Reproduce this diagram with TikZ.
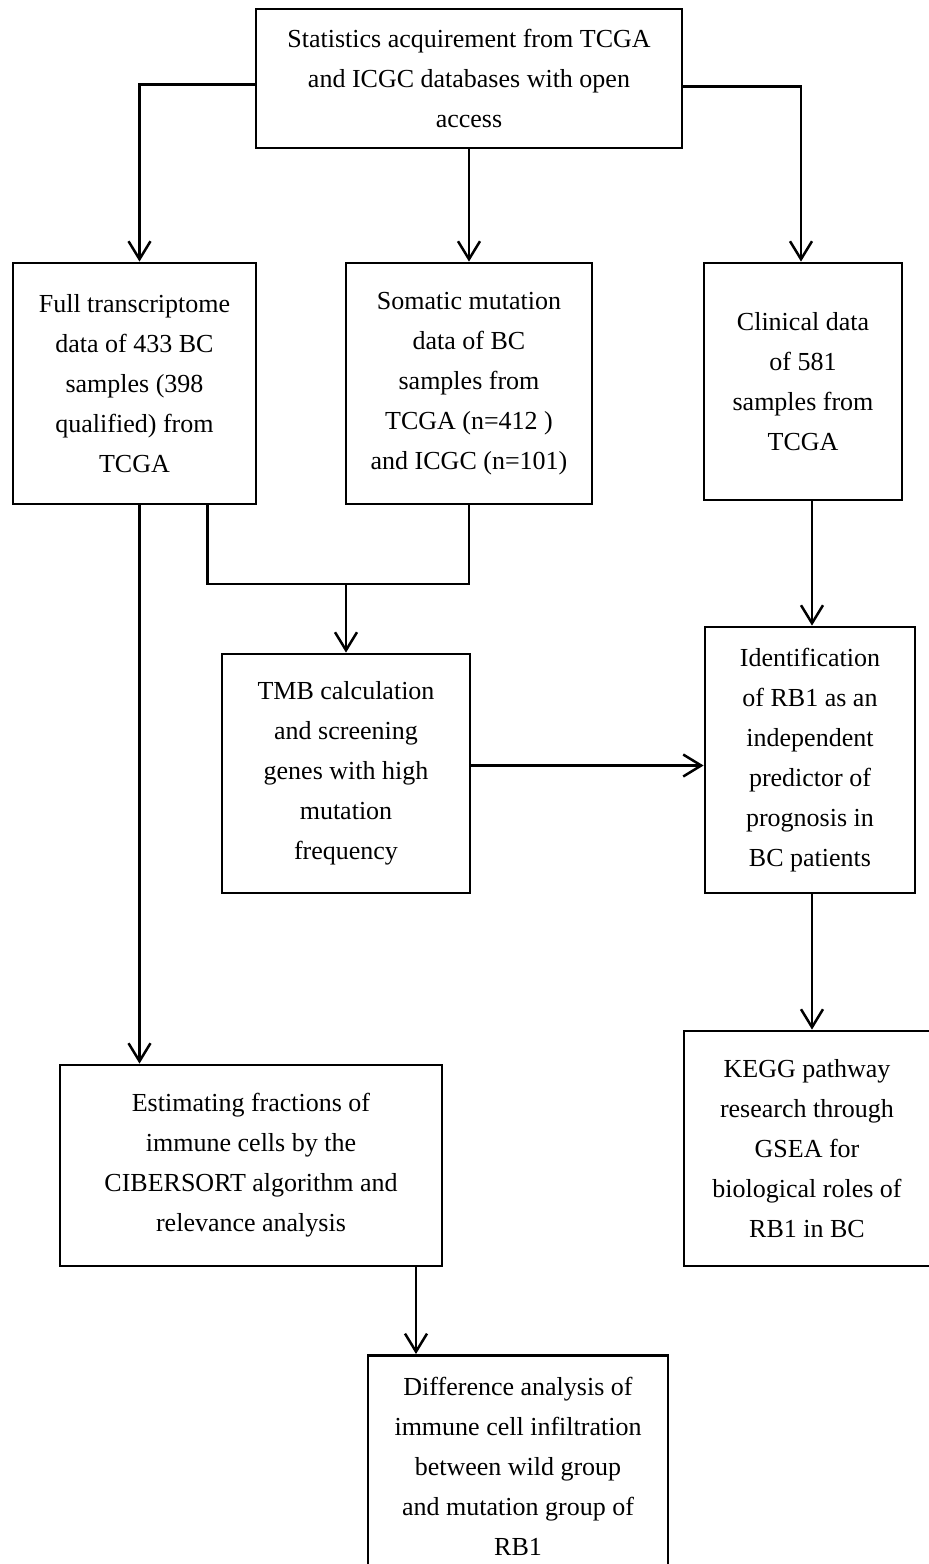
\documentclass[tikz,border=0pt]{standalone}
\usepackage{fontspec}
\setmainfont{Liberation Serif}
\usetikzlibrary{arrows.meta,calc}

\tikzset{
  flowbox/.style={draw, line width=2.8pt, align=center, inner sep=0pt,
    font=\fontsize{26}{40}\selectfont},
  flowline/.style={line width=2.8pt},
  flowarrow/.style={flowline, -{Straight Barb[length=18pt,width=22pt,line width=2.5pt]}}
}

\begin{document}
\begin{tikzpicture}[x=1pt,y=-1pt]
  \useasboundingbox (0,0) rectangle (929,1564);

  % boxes
  \node[flowbox, minimum width=426pt, minimum height=139pt] (stat) at (469,78.5)
    {Statistics acquirement from TCGA\\and ICGC databases with open\\access};
  \node[flowbox, minimum width=243pt, minimum height=241pt] (full) at (134.5,383.5)
    {Full transcriptome\\data of 433 BC\\samples (398\\qualified) from\\TCGA};
  \node[flowbox, minimum width=246pt, minimum height=241pt] (soma) at (469,383.5)
    {Somatic mutation\\data of BC\\samples from\\TCGA (n=412 )\\and ICGC (n=101)};
  \node[flowbox, minimum width=198pt, minimum height=237pt] (clin) at (803,381.5)
    {Clinical data\\of 581\\samples from\\TCGA};
  \node[flowbox, minimum width=248pt, minimum height=239pt] (tmb) at (346,773.5)
    {TMB calculation\\and screening\\genes with high\\mutation\\frequency};
  \node[flowbox, minimum width=210pt, minimum height=266pt] (ident) at (810,760)
    {Identification\\of RB1 as an\\independent\\predictor of\\prognosis in\\BC patients};
  \node[flowbox, minimum width=382pt, minimum height=201pt] (estim) at (251,1165.5)
    {Estimating fractions of\\immune cells by the\\CIBERSORT algorithm and\\relevance analysis};
  \node[flowbox, minimum width=246pt, minimum height=235pt] (kegg) at (807,1148.5)
    {KEGG pathway\\research through\\GSEA for\\biological roles of\\RB1 in BC};
  \node[flowbox, minimum width=300pt, inner ysep=22pt, anchor=north] (diff) at (518,1354)
    {Difference analysis of\\immune cell infiltration\\between wild group\\and mutation group of\\RB1};

  % connectors
  \draw[flowarrow] ([yshift=-6pt]stat.west) -| ([xshift=5pt]full.north);
  \draw[flowarrow] (stat.south) -- (soma.north);
  \draw[flowarrow] ([yshift=-8pt]stat.east) -| ([xshift=-2pt]clin.north);

  \coordinate (merge) at (346,584);
  \draw[flowline] ([xshift=73pt]full.south) |- (merge -| soma.south) -- (soma.south);
  \draw[flowarrow] (merge) -- (tmb.north);

  \draw[flowarrow] ([xshift=5pt]full.south) -- ([xshift=5pt]full.south |- estim.north);
  \draw[flowarrow] ([xshift=9pt]clin.south) -- ([xshift=9pt]clin.south |- ident.north);
  \draw[flowarrow] ([yshift=8pt]tmb.east) -- ([yshift=8pt]tmb.east -| ident.west);
  \draw[flowarrow] ([xshift=2pt]ident.south) -- ([xshift=2pt]ident.south |- kegg.north);
  \draw[flowarrow] ([xshift=165pt]estim.south) -- ([xshift=165pt]estim.south |- diff.north);
\end{tikzpicture}
\end{document}
